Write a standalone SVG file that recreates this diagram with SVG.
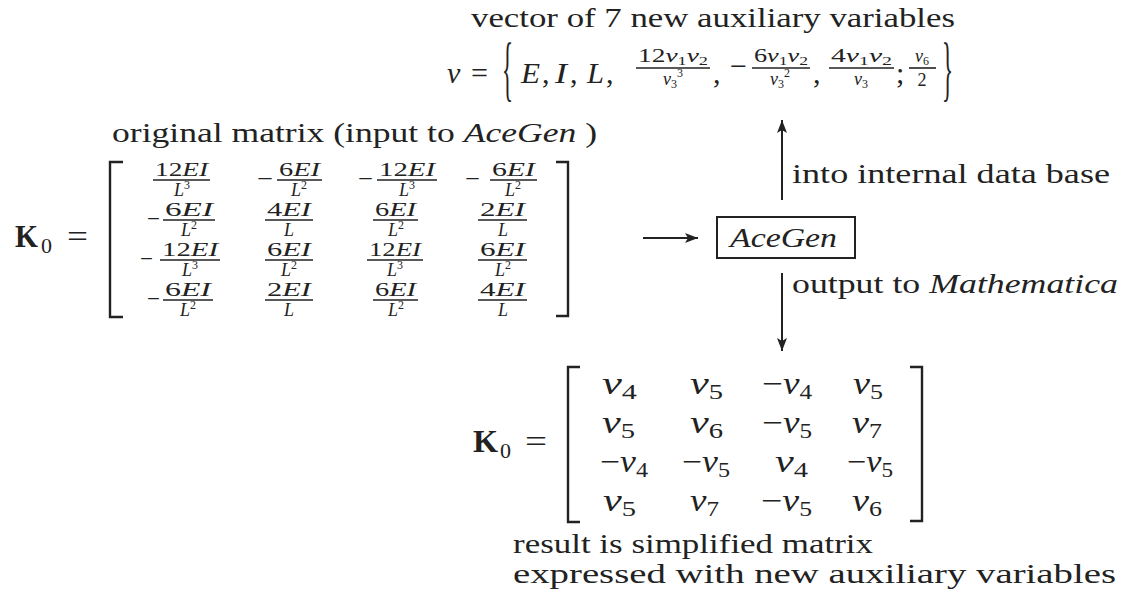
<svg xmlns="http://www.w3.org/2000/svg" width="1126" height="596" viewBox="0 0 1126 596">
<style>
.t{font-family:"Liberation Serif",serif;fill:#222}
.i{font-style:italic}
.b{font-weight:bold}
.bar{stroke:#222;stroke-width:1.6}
.brk{fill:none;stroke:#222;stroke-width:2.4}
.con{stroke:#222;stroke-width:2;fill:none}
.box{fill:#fff;stroke:#222;stroke-width:2}
.f18{font-size:18px}
.f30{font-size:30px}
.e{font-size:31px}
</style>
<defs>
<marker id="ah" markerUnits="userSpaceOnUse" markerWidth="14" markerHeight="12" refX="13" refY="5" orient="auto">
<path d="M0,0 L13,5 L0,10 L3,5 z" fill="#222"/>
</marker>
</defs>
<rect width="1126" height="596" fill="#fff"/>

<g id="vector-label">
<text class="t" x="471" y="27" font-size="27" textLength="484" lengthAdjust="spacingAndGlyphs">vector of 7 new auxiliary variables</text>
</g>

<g id="vector">
<text class="t i f30" x="447" y="83">v</text>
<text class="t f30" x="471" y="83" textLength="17" lengthAdjust="spacingAndGlyphs">=</text>
<text class="t" x="502" y="43.7" font-size="34" transform="matrix(1,0,0,2.1,0,0)" textLength="11" lengthAdjust="spacingAndGlyphs">{</text>
<text class="t i f30" x="521" y="83" textLength="19" lengthAdjust="spacingAndGlyphs">E</text>
<text class="t f30" x="542" y="83">,</text>
<text class="t i f30" x="555" y="83" textLength="12" lengthAdjust="spacingAndGlyphs">I</text>
<text class="t f30" x="570" y="83">,</text>
<text class="t i f30" x="587" y="83" textLength="17" lengthAdjust="spacingAndGlyphs">L</text>
<text class="t f30" x="606" y="83">,</text>
<!-- F1 -->
<text class="t f18" x="638" y="62" textLength="70" lengthAdjust="spacingAndGlyphs">12<tspan class="i">v</tspan><tspan font-size="12" dy="3">1</tspan><tspan class="i" dy="-3">v</tspan><tspan font-size="12" dy="3">2</tspan></text>
<line class="bar" x1="636" y1="68" x2="710" y2="68"/>
<text class="t f18" x="673" y="85" text-anchor="middle"><tspan class="i">v</tspan><tspan font-size="12" dy="3">3</tspan><tspan font-size="12" dy="-11">3</tspan></text>
<text class="t f30" x="713" y="83">,</text>
<!-- F2 -->
<text class="t f30" x="730" y="76" textLength="17" lengthAdjust="spacingAndGlyphs">−</text>
<text class="t f18" x="754" y="62" textLength="54" lengthAdjust="spacingAndGlyphs">6<tspan class="i">v</tspan><tspan font-size="12" dy="3">1</tspan><tspan class="i" dy="-3">v</tspan><tspan font-size="12" dy="3">2</tspan></text>
<line class="bar" x1="752" y1="68" x2="810" y2="68"/>
<text class="t f18" x="780" y="85" text-anchor="middle"><tspan class="i">v</tspan><tspan font-size="12" dy="3">3</tspan><tspan font-size="12" dy="-11">2</tspan></text>
<text class="t f30" x="813" y="83">,</text>
<!-- F3 -->
<text class="t f18" x="831" y="62" textLength="61" lengthAdjust="spacingAndGlyphs">4<tspan class="i">v</tspan><tspan font-size="12" dy="3">1</tspan><tspan class="i" dy="-3">v</tspan><tspan font-size="12" dy="3">2</tspan></text>
<line class="bar" x1="829" y1="68" x2="894" y2="68"/>
<text class="t f18" x="861" y="85" text-anchor="middle"><tspan class="i">v</tspan><tspan font-size="12" dy="3">3</tspan></text>
<text class="t f30" x="896" y="83">;</text>
<!-- F4 -->
<text class="t f18" x="922" y="62" text-anchor="middle"><tspan class="i">v</tspan><tspan font-size="12" dy="3">6</tspan></text>
<line class="bar" x1="909" y1="68" x2="936" y2="68"/>
<text class="t f18" x="922" y="86" text-anchor="middle">2</text>
<text class="t" x="942" y="43.7" font-size="34" transform="matrix(1,0,0,2.1,0,0)" textLength="11" lengthAdjust="spacingAndGlyphs">}</text>
</g>

<g id="original-label">
<text class="t" x="112" y="142" font-size="27" textLength="485" lengthAdjust="spacingAndGlyphs">original matrix (input to <tspan class="i">AceGen</tspan> )</text>
</g>

<g id="original-matrix">
<text class="t b" x="15" y="247" font-size="32" textLength="23" lengthAdjust="spacingAndGlyphs">K</text>
<text class="t" x="41" y="253" font-size="22">0</text>
<text class="t" x="67" y="247" font-size="32" textLength="21" lengthAdjust="spacingAndGlyphs">=</text>
<path class="brk" d="M123,162 H110 V317 H123"/>
<path class="brk" d="M556,162 H568 V316 H556"/>
<!-- row 1 -->
<text class="t i f18" x="155" y="176" textLength="53" lengthAdjust="spacingAndGlyphs"><tspan font-style="normal">12</tspan>EI</text>
<line class="bar" x1="153" y1="180" x2="210" y2="180"/>
<text class="t f18" x="182" y="196" text-anchor="middle"><tspan class="i">L</tspan><tspan font-size="12" dy="-7">3</tspan></text>
<text class="t" x="257" y="186" font-size="22" textLength="16" lengthAdjust="spacingAndGlyphs">−</text>
<text class="t i f18" x="279" y="176" textLength="41" lengthAdjust="spacingAndGlyphs"><tspan font-style="normal">6</tspan>EI</text>
<line class="bar" x1="277" y1="180" x2="322" y2="180"/>
<text class="t f18" x="299" y="196" text-anchor="middle"><tspan class="i">L</tspan><tspan font-size="12" dy="-7">2</tspan></text>
<text class="t" x="358" y="186" font-size="22" textLength="15" lengthAdjust="spacingAndGlyphs">−</text>
<text class="t i f18" x="379" y="176" textLength="56" lengthAdjust="spacingAndGlyphs"><tspan font-style="normal">12</tspan>EI</text>
<line class="bar" x1="377" y1="180" x2="437" y2="180"/>
<text class="t f18" x="407" y="196" text-anchor="middle"><tspan class="i">L</tspan><tspan font-size="12" dy="-7">3</tspan></text>
<text class="t" x="465" y="186" font-size="22" textLength="15" lengthAdjust="spacingAndGlyphs">−</text>
<text class="t i f18" x="492" y="176" textLength="43" lengthAdjust="spacingAndGlyphs"><tspan font-style="normal">6</tspan>EI</text>
<line class="bar" x1="490" y1="180" x2="537" y2="180"/>
<text class="t f18" x="513" y="196" text-anchor="middle"><tspan class="i">L</tspan><tspan font-size="12" dy="-7">2</tspan></text>
<!-- row 2 -->
<text class="t" x="147" y="226" font-size="22" textLength="13" lengthAdjust="spacingAndGlyphs">−</text>
<text class="t i f18" x="165" y="216" textLength="48" lengthAdjust="spacingAndGlyphs"><tspan font-style="normal">6</tspan>EI</text>
<line class="bar" x1="163" y1="220" x2="215" y2="220"/>
<text class="t f18" x="189" y="236" text-anchor="middle"><tspan class="i">L</tspan><tspan font-size="12" dy="-7">2</tspan></text>
<text class="t i f18" x="267" y="216" textLength="44" lengthAdjust="spacingAndGlyphs"><tspan font-style="normal">4</tspan>EI</text>
<line class="bar" x1="265" y1="220" x2="313" y2="220"/>
<text class="t i f18" x="289" y="236" text-anchor="middle">L</text>
<text class="t i f18" x="375" y="216" textLength="41" lengthAdjust="spacingAndGlyphs"><tspan font-style="normal">6</tspan>EI</text>
<line class="bar" x1="373" y1="220" x2="418" y2="220"/>
<text class="t f18" x="396" y="236" text-anchor="middle"><tspan class="i">L</tspan><tspan font-size="12" dy="-7">2</tspan></text>
<text class="t i f18" x="480" y="216" textLength="45" lengthAdjust="spacingAndGlyphs"><tspan font-style="normal">2</tspan>EI</text>
<line class="bar" x1="478" y1="220" x2="527" y2="220"/>
<text class="t i f18" x="503" y="236" text-anchor="middle">L</text>
<!-- row 3 -->
<text class="t" x="140" y="266" font-size="22" textLength="13" lengthAdjust="spacingAndGlyphs">−</text>
<text class="t i f18" x="162" y="256" textLength="56" lengthAdjust="spacingAndGlyphs"><tspan font-style="normal">12</tspan>EI</text>
<line class="bar" x1="160" y1="260" x2="220" y2="260"/>
<text class="t f18" x="190" y="276" text-anchor="middle"><tspan class="i">L</tspan><tspan font-size="12" dy="-7">3</tspan></text>
<text class="t i f18" x="267" y="256" textLength="44" lengthAdjust="spacingAndGlyphs"><tspan font-style="normal">6</tspan>EI</text>
<line class="bar" x1="265" y1="260" x2="313" y2="260"/>
<text class="t f18" x="289" y="276" text-anchor="middle"><tspan class="i">L</tspan><tspan font-size="12" dy="-7">2</tspan></text>
<text class="t i f18" x="369" y="256" textLength="52" lengthAdjust="spacingAndGlyphs"><tspan font-style="normal">12</tspan>EI</text>
<line class="bar" x1="367" y1="260" x2="423" y2="260"/>
<text class="t f18" x="395" y="276" text-anchor="middle"><tspan class="i">L</tspan><tspan font-size="12" dy="-7">3</tspan></text>
<text class="t i f18" x="480" y="256" textLength="45" lengthAdjust="spacingAndGlyphs"><tspan font-style="normal">6</tspan>EI</text>
<line class="bar" x1="478" y1="260" x2="527" y2="260"/>
<text class="t f18" x="503" y="276" text-anchor="middle"><tspan class="i">L</tspan><tspan font-size="12" dy="-7">2</tspan></text>
<!-- row 4 -->
<text class="t" x="147" y="306" font-size="22" textLength="13" lengthAdjust="spacingAndGlyphs">−</text>
<text class="t i f18" x="165" y="296" textLength="46" lengthAdjust="spacingAndGlyphs"><tspan font-style="normal">6</tspan>EI</text>
<line class="bar" x1="163" y1="300" x2="213" y2="300"/>
<text class="t f18" x="188" y="316" text-anchor="middle"><tspan class="i">L</tspan><tspan font-size="12" dy="-7">2</tspan></text>
<text class="t i f18" x="267" y="296" textLength="44" lengthAdjust="spacingAndGlyphs"><tspan font-style="normal">2</tspan>EI</text>
<line class="bar" x1="265" y1="300" x2="313" y2="300"/>
<text class="t i f18" x="289" y="316" text-anchor="middle">L</text>
<text class="t i f18" x="375" y="296" textLength="41" lengthAdjust="spacingAndGlyphs"><tspan font-style="normal">6</tspan>EI</text>
<line class="bar" x1="373" y1="300" x2="418" y2="300"/>
<text class="t f18" x="396" y="316" text-anchor="middle"><tspan class="i">L</tspan><tspan font-size="12" dy="-7">2</tspan></text>
<text class="t i f18" x="480" y="296" textLength="45" lengthAdjust="spacingAndGlyphs"><tspan font-style="normal">4</tspan>EI</text>
<line class="bar" x1="478" y1="300" x2="527" y2="300"/>
<text class="t i f18" x="503" y="316" text-anchor="middle">L</text>
</g>

<g id="acegen">
<rect class="box" x="717" y="217" width="138" height="41"/>
<text class="t i" x="730" y="247" font-size="28" textLength="107" lengthAdjust="spacingAndGlyphs">AceGen</text>
</g>

<g id="label-into">
<text class="t" x="792" y="183" font-size="27" textLength="318" lengthAdjust="spacingAndGlyphs">into internal data base</text>
</g>

<g id="label-output">
<text class="t" x="792" y="293" font-size="27" textLength="326" lengthAdjust="spacingAndGlyphs">output to <tspan class="i">Mathematica</tspan></text>
</g>

<g id="result-matrix">
<text class="t b" x="473" y="452" font-size="32" textLength="25" lengthAdjust="spacingAndGlyphs">K</text>
<text class="t" x="500" y="458" font-size="22">0</text>
<text class="t" x="525" y="452" font-size="32" textLength="22" lengthAdjust="spacingAndGlyphs">=</text>
<path class="brk" d="M580,367 H568 V522 H580"/>
<path class="brk" d="M910,367 H922 V521 H910"/>
<!-- row 1 -->
<text class="t e" x="602" y="394" textLength="35" lengthAdjust="spacingAndGlyphs"><tspan class="i">v</tspan><tspan font-size="21" dy="5">4</tspan></text>
<text class="t e" x="690" y="394" textLength="33" lengthAdjust="spacingAndGlyphs"><tspan class="i">v</tspan><tspan font-size="21" dy="5">5</tspan></text>
<text class="t e" x="762" y="394" textLength="50" lengthAdjust="spacingAndGlyphs">−<tspan class="i">v</tspan><tspan font-size="21" dy="5">4</tspan></text>
<text class="t e" x="853" y="394" textLength="30" lengthAdjust="spacingAndGlyphs"><tspan class="i">v</tspan><tspan font-size="21" dy="5">5</tspan></text>
<!-- row 2 -->
<text class="t e" x="602" y="433" textLength="33" lengthAdjust="spacingAndGlyphs"><tspan class="i">v</tspan><tspan font-size="21" dy="5">5</tspan></text>
<text class="t e" x="690" y="433" textLength="33" lengthAdjust="spacingAndGlyphs"><tspan class="i">v</tspan><tspan font-size="21" dy="5">6</tspan></text>
<text class="t e" x="762" y="433" textLength="50" lengthAdjust="spacingAndGlyphs">−<tspan class="i">v</tspan><tspan font-size="21" dy="5">5</tspan></text>
<text class="t e" x="852" y="433" textLength="30" lengthAdjust="spacingAndGlyphs"><tspan class="i">v</tspan><tspan font-size="21" dy="5">7</tspan></text>
<!-- row 3 -->
<text class="t e" x="600" y="472" textLength="48" lengthAdjust="spacingAndGlyphs">−<tspan class="i">v</tspan><tspan font-size="21" dy="5">4</tspan></text>
<text class="t e" x="682" y="472" textLength="48" lengthAdjust="spacingAndGlyphs">−<tspan class="i">v</tspan><tspan font-size="21" dy="5">5</tspan></text>
<text class="t e" x="775" y="472" textLength="33" lengthAdjust="spacingAndGlyphs"><tspan class="i">v</tspan><tspan font-size="21" dy="5">4</tspan></text>
<text class="t e" x="847" y="472" textLength="46" lengthAdjust="spacingAndGlyphs">−<tspan class="i">v</tspan><tspan font-size="21" dy="5">5</tspan></text>
<!-- row 4 -->
<text class="t e" x="603" y="511" textLength="33" lengthAdjust="spacingAndGlyphs"><tspan class="i">v</tspan><tspan font-size="21" dy="5">5</tspan></text>
<text class="t e" x="690" y="511" textLength="29" lengthAdjust="spacingAndGlyphs"><tspan class="i">v</tspan><tspan font-size="21" dy="5">7</tspan></text>
<text class="t e" x="761" y="511" textLength="51" lengthAdjust="spacingAndGlyphs">−<tspan class="i">v</tspan><tspan font-size="21" dy="5">5</tspan></text>
<text class="t e" x="852" y="511" textLength="30" lengthAdjust="spacingAndGlyphs"><tspan class="i">v</tspan><tspan font-size="21" dy="5">6</tspan></text>
</g>

<g id="result-label">
<text class="t" x="513" y="553" font-size="27" textLength="360" lengthAdjust="spacingAndGlyphs">result is simplified matrix</text>
<text class="t" x="513" y="583" font-size="27" textLength="603" lengthAdjust="spacingAndGlyphs">expressed with new auxiliary variables</text>
</g>

<g id="connectors">
<line class="con" x1="643" y1="238" x2="698" y2="238" marker-end="url(#ah)"/>
<line class="con" x1="782" y1="200" x2="782" y2="120" marker-end="url(#ah)"/>
<line class="con" x1="782" y1="273" x2="782" y2="351" marker-end="url(#ah)"/>
</g>
</svg>
